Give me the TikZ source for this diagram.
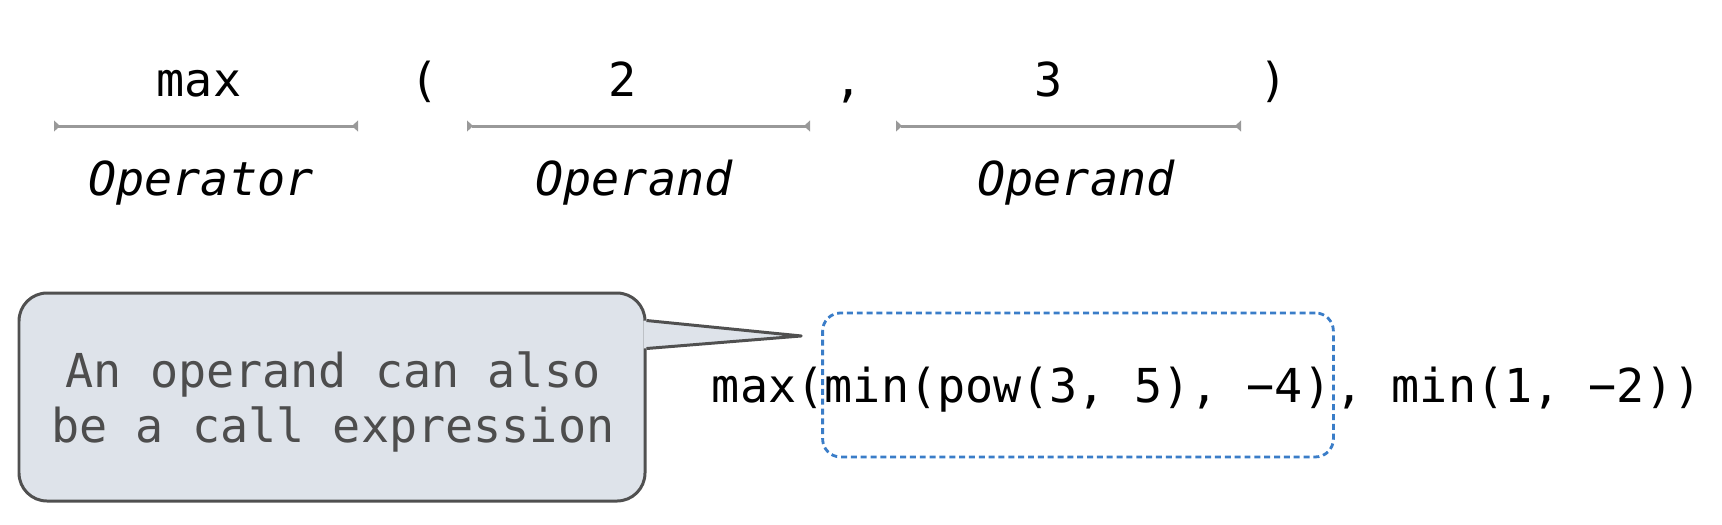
\documentclass[tikz,border=0pt]{standalone}
\usepackage{fontspec}
\setmonofont{DejaVu Sans Mono}
\usetikzlibrary{arrows.meta}
\usetikzlibrary{calc}
\definecolor{spangray}{RGB}{153,153,153}
\definecolor{notefill}{RGB}{222,227,234}
\definecolor{noteline}{RGB}{80,80,80}
\definecolor{notetext}{RGB}{77,77,77}
\definecolor{argblue}{RGB}{58,125,200}
\tikzset{
  code/.style={font=\ttfamily\fontsize{13.3}{15.4}\selectfont, inner sep=0pt},
  role/.style={font=\ttfamily\itshape\fontsize{13.3}{15.4}\selectfont, inner sep=0pt},
  span/.style={draw=spangray, line width=0.85pt,
    {Triangle[reversed,length=1.7pt,width=3.1pt]}-{Triangle[reversed,length=1.7pt,width=3.1pt]}},
  notebox/.style={draw=noteline, fill=notefill, line width=0.85pt, rounded corners=2.8mm,
    minimum width=62.6mm, minimum height=20.8mm, inner sep=0pt},
  notelabel/.style={code, text=notetext, align=center},
  argbox/.style={code, draw=argblue, line width=0.8pt, dash pattern=on 1.7pt off 1.1pt,
    rounded corners=1.8mm, minimum height=14.4mm, inner xsep=0.6pt,
    text height=9.7pt, text depth=0pt}
}
\begin{document}
\begin{tikzpicture}[x=0.1mm, y=-0.1mm]
\useasboundingbox (0,0) rectangle (1722,524);
% call with two operands
\node[code, anchor=base] (fname) at (199,96) {max};
\node[code, anchor=base] (lpar) at (425,96) {(};
\node[code, anchor=base] (argone) at (623,96) {2};
\node[code, anchor=base] (comma) at (849,96) {,};
\node[code, anchor=base] (argtwo) at (1049,96) {3};
\node[code, anchor=base] (rpar) at (1274,96) {)};
\coordinate (opL) at (54,126);
\coordinate (opR) at (358,126);
\coordinate (aL) at (467,126);
\coordinate (aR) at (810,126);
\coordinate (bL) at (896,126);
\coordinate (bR) at (1241,126);
\draw[span] (opL) -- (opR);
\draw[span] (aL) -- (aR);
\draw[span] (bL) -- (bR);
\node[role, anchor=base] (oplabel) at (201,195) {Operator};
\node[role, anchor=base] (alabel) at (634,195) {Operand};
\node[role, anchor=base] (blabel) at (1076,195) {Operand};
% nested call
\node[argbox, anchor=base] (inner) at (1078,402) {min(pow(3, 5), −4)};
\node[code, anchor=base east] (head) at ([xshift=0.4mm]inner.base west) {max(};
\node[code, anchor=base west] (tail) at (inner.base east) {, min(1, −2))};
% callout
\node[notebox] (note) at (332,397) {};
\coordinate (tip) at ($(inner.west)+(-20,-49)$);
\fill[notefill] ($(note.north east)+(-3,29)$) -- (tip) -- ($(note.north east)+(-3,57)$) -- cycle;
\draw[noteline, line width=0.85pt, line join=round] ($(note.north east)+(0,29)$) -- (tip) -- ($(note.north east)+(0,57)$);
\node[notelabel, anchor=base] (notetxt) at (333,442) {An operand can also\\be a call expression};
\end{tikzpicture}
\end{document}
